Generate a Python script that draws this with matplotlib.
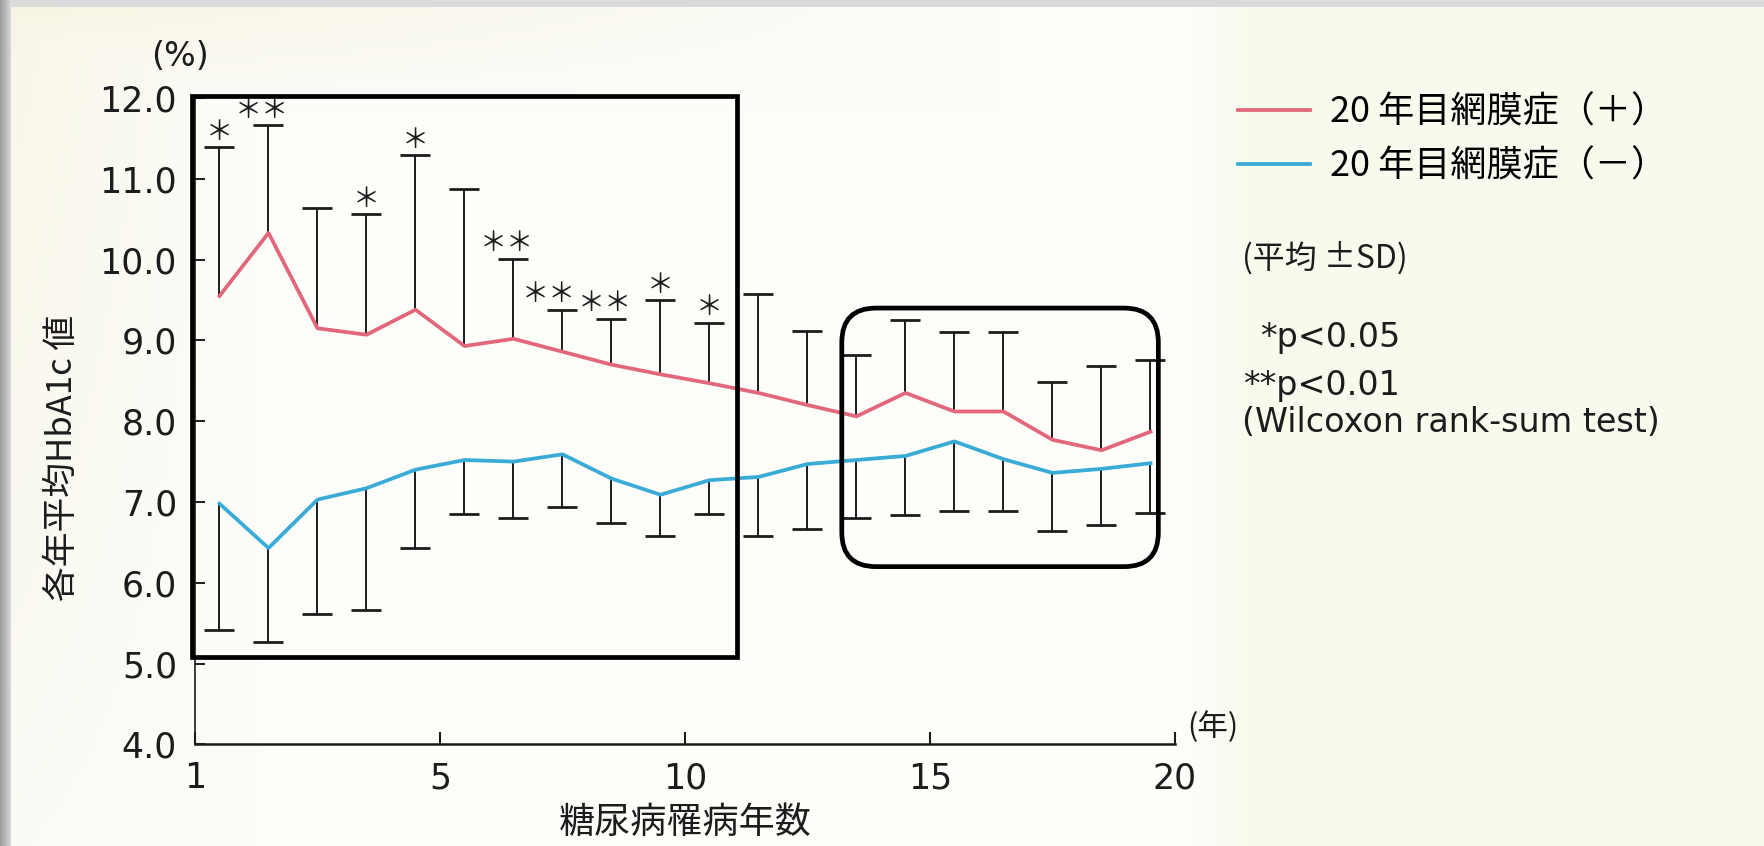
import numpy as np
import matplotlib.pyplot as plt
from matplotlib.patches import Rectangle, FancyBboxPatch

# 糖尿病罹病年数ごとの各年平均 HbA1c（平均, SD）
years = [1, 2, 3, 4, 5, 6, 7, 8, 9, 10, 11, 12, 13, 14, 15, 16, 17, 18, 19, 20]

# 20年目網膜症（+）
pos_mean = [9.55, 10.33, 9.15, 9.07, 9.38, 8.93, 9.02, 8.86, 8.70, 8.58,
            8.47, 8.35, 8.20, 8.06, 8.35, 8.12, 8.12, 7.77, 7.64, 7.87]
pos_sd = [1.84, 1.33, 1.49, 1.49, 1.91, 1.94, 0.99, 0.52, 0.57, 0.92,
          0.75, 1.22, 0.92, 0.76, 0.90, 0.99, 0.99, 0.72, 1.04, 0.89]
pos_sig = ['*', '**', '', '*', '*', '', '**', '**', '**', '*',
           '*', '', '', '', '', '', '', '', '', '']

# 20年目網膜症（－）
neg_mean = [6.98, 6.43, 7.03, 7.17, 7.40, 7.52, 7.50, 7.59, 7.29, 7.09,
            7.27, 7.31, 7.47, 7.52, 7.57, 7.75, 7.53, 7.36, 7.41, 7.48]
neg_sd = [1.56, 1.16, 1.41, 1.51, 0.97, 0.67, 0.70, 0.65, 0.55, 0.51,
          0.42, 0.73, 0.81, 0.72, 0.73, 0.86, 0.64, 0.72, 0.70, 0.62]

labels = ['20 年目網膜症（＋）', '20 年目網膜症（－）']
xtick_pos = [0, 5, 10, 15, 20]
xtick_labels = ['1', '5', '10', '15', '20']
yticks = [4.0, 5.0, 6.0, 7.0, 8.0, 9.0, 10.0, 11.0, 12.0]

# 強調枠 (データ座標: x0, y0, x1, y1)
box_early = (-0.07, 5.085, 11.06, 12.02)
box_late = (13.20, 6.20, 19.66, 9.40)

CJK = ['Noto Sans CJK JP', 'DejaVu Sans']
RED = '#e2677a'
BLUE = '#3aabd6'
INK = '#1c1c1c'

W, H = 1765, 846
fig = plt.figure(figsize=(W / 100, H / 100), dpi=100)

# 背景：スキャンした紙面の色むら
yy, xx = np.mgrid[0:H, 0:W].astype(float)
bg = np.ones((H, W, 3)) * np.array([253, 253, 250]) / 255
cream = np.array([246, 242, 222]) / 255
green = np.array([247, 251, 237]) / 255
w = np.clip(1 - xx / 260, 0, 1) * np.clip(1 - yy / 1100, 0, 1) * 0.7
w = np.maximum(w, np.clip(1 - yy / 115, 0, 1) * np.clip(1 - xx / 1000, 0, 1) * 0.85)
bg = bg * (1 - w[..., None]) + cream * w[..., None]
g = np.clip((xx - 1190) / 60, 0, 1)
bg = bg * (1 - g[..., None]) + green * g[..., None]
top = yy < 7
bg[top] = np.array([218, 218, 218]) / 255
left = xx < 11
shade = 0.62 + 0.022 * xx
bg[left] = np.repeat(shade[left][:, None], 3, axis=1)
fig.figimage(bg, xo=0, yo=0, origin='upper', zorder=-1)

ax = fig.add_axes([195 / W, 1 - 744.4 / H, 980 / W, 646.4 / H])
ax.set_facecolor('none')

x = np.array(years) - 0.5
zeros = np.zeros(len(years))

# 片側のみの SD バー（平均値側のキャップは消す）
eb = ax.errorbar(x, pos_mean, yerr=[zeros, pos_sd], fmt='none', ecolor=INK,
                 elinewidth=1.4, capsize=11, capthick=2.0, zorder=2)
eb[1][0].set_visible(False)
eb = ax.errorbar(x, neg_mean, yerr=[neg_sd, zeros], fmt='none', ecolor=INK,
                 elinewidth=1.4, capsize=11, capthick=2.0, zorder=2)
eb[1][1].set_visible(False)
l_pos, = ax.plot(x, pos_mean, color=RED, lw=2.7, zorder=3, solid_joinstyle='round')
l_neg, = ax.plot(x, neg_mean, color=BLUE, lw=2.7, zorder=3, solid_joinstyle='round')

# 有意差の印（** が並ぶところは少し左へずらして重ならないようにする）
for i, (xi, m, s, sig) in enumerate(zip(x, pos_mean, pos_sd, pos_sig)):
    if not sig:
        continue
    dx = 0
    if sig == '**':
        nxt = pos_sig[i + 1] if i + 1 < len(pos_sig) else ''
        dx = -9.5 if nxt == '**' and i > 0 and pos_sig[i - 1] == '**' else -5
    ax.annotate(sig.replace('*', '＊'), xy=(xi, m + s), xytext=(dx, 1),
                textcoords='offset points', ha='center', va='bottom',
                family=CJK, fontsize=19.5, color=INK, annotation_clip=False)

ax.set_xlim(0, 20)
ax.set_ylim(4, 12)
ax.set_xticks(xtick_pos)
ax.set_xticklabels(xtick_labels)
ax.set_yticks(yticks)
ax.set_yticklabels([f'{v:.1f}' for v in yticks])
ax.spines[['top', 'right']].set_visible(False)
ax.spines['left'].set_linewidth(1.2)
ax.spines['bottom'].set_linewidth(1.8)
ax.spines['left'].set_color(INK)
ax.spines['bottom'].set_color(INK)
ax.tick_params(axis='y', direction='in', length=7, width=1.4, labelsize=25,
               pad=13, colors=INK)
ax.tick_params(axis='x', direction='in', length=9, width=1.5, labelsize=25,
               pad=12, colors=INK)

ax.set_xlabel('糖尿病罹病年数', family=CJK, fontsize=26, color=INK)
ax.xaxis.set_label_coords(0.5, -0.1216)
ax.xaxis.label.set_va('center')
ax.set_ylabel('各年平均HbA1c 値', family=CJK, fontsize=25, color=INK)
ax.yaxis.set_label_coords(-0.1357, 0.443)
ax.yaxis.label.set_va('center')

fig.text(180 / W, 1 - 56 / H, '(%)', fontsize=24, ha='center', va='center', color=INK)
fig.text(1213 / W, 1 - 727 / H, '(年)', family=CJK, fontsize=22,
         ha='center', va='center', color=INK)

# 強調枠
bx0, by0, bx1, by1 = box_early
ax.add_patch(Rectangle((bx0, by0), bx1 - bx0, by1 - by0, fill=False,
                       ec='black', lw=3.4, clip_on=False, zorder=5))
p0 = ax.transData.transform((0, 0))
p1 = ax.transData.transform((1, 1))
aspect = (p1[0] - p0[0]) / (p1[1] - p0[1])
bx0, by0, bx1, by1 = box_late
ax.add_patch(FancyBboxPatch((bx0, by0), bx1 - bx0, by1 - by0,
                            boxstyle='round,pad=0,rounding_size=0.7',
                            mutation_aspect=aspect, fill=False, ec='black',
                            lw=3.4, clip_on=False, zorder=5))

fig.legend(handles=[l_pos, l_neg], labels=labels, loc='center left',
           bbox_to_anchor=(1238 / W, 1 - 139.5 / H), frameon=False,
           prop={'family': CJK, 'size': 26}, handlelength=2.0,
           handletextpad=0.55, labelspacing=0.5, borderpad=0, borderaxespad=0)

fig.text(1242 / W, 1 - 268 / H, '(平均 ±SD)', family=CJK, fontsize=23,
         va='baseline', color=INK)
fig.text(1400 / W, 1 - 347 / H, '*p<0.05', fontsize=24, ha='right',
         va='baseline', color=INK)
fig.text(1400 / W, 1 - 395 / H, '**p<0.01', fontsize=24, ha='right',
         va='baseline', color=INK)
fig.text(1242 / W, 1 - 432 / H, '(Wilcoxon rank-sum test)', fontsize=24,
         va='baseline', color=INK)

fig.savefig('out.png', dpi=100)
